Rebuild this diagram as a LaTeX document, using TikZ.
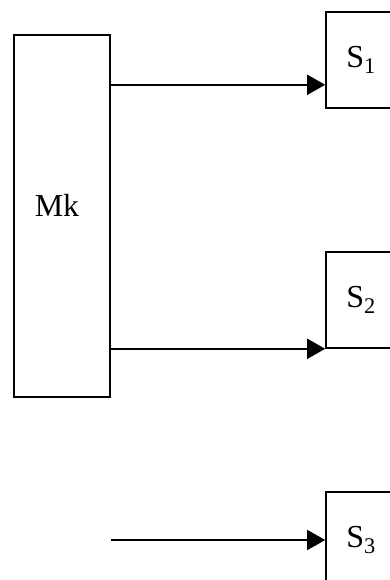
\documentclass[tikz,border=0pt]{standalone}
\usepackage{fontspec}
\setmainfont{Liberation Serif}
\usetikzlibrary{arrows.meta}

\begin{document}
\begin{tikzpicture}[x=1pt, y=-1pt, line width=1.6pt,
  box/.style={draw=black, inner sep=0pt, font=\fontsize{32}{38}\selectfont},
  flow/.style={draw=black, -{Triangle[length=18pt,width=20pt]}}]
\clip (0,0) rectangle (390,580);
\node[box, minimum width=96pt, minimum height=362pt] (mk) at (62,216) {};
\node[font=\fontsize{32}{38}\selectfont] (mklabel) at (57,205) {Mk};
\node[box, minimum width=70pt, minimum height=96pt] (s1) at (361,60) {S\textsubscript{1}};
\node[box, minimum width=70pt, minimum height=96pt] (s2) at (361,300) {S\textsubscript{2}};
\node[box, minimum width=70pt, minimum height=96pt] (s3) at (361,540) {S\textsubscript{3}};
\coordinate (in1) at ([yshift=24pt]s1.south west) ;
\coordinate (src3) at (mk.east |- s3.west) ;
\draw[flow] (mk.east |- in1) -- (in1);
\draw[flow] (mk.east |- s2.south west) -- (s2.south west);
\draw[flow] (src3) -- (s3.west);
\end{tikzpicture}
\end{document}
